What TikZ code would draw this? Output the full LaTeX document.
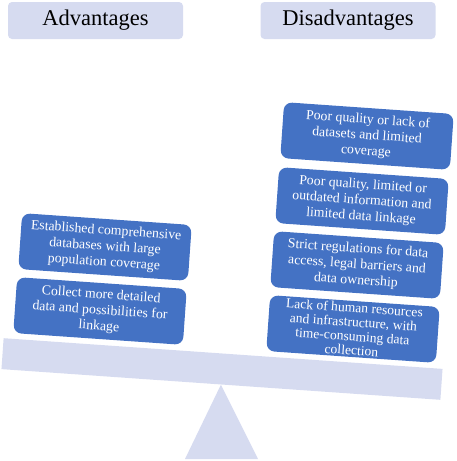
\documentclass[tikz,border=0pt]{standalone}
\usepackage{fontspec}
\setmainfont{Liberation Serif}
\definecolor{lavender}{RGB}{214,219,240}
\definecolor{boxblue}{RGB}{68,114,196}
\begin{document}
\begin{tikzpicture}[x=1pt,y=-1pt]
  \tikzstyle{head}=[fill=lavender,rounded corners=4pt,minimum width=175pt,minimum height=37pt,inner sep=0pt,font=\fontsize{22.5}{26}\selectfont]
  \tikzstyle{item}=[fill=boxblue,text=white,rounded corners=8pt,minimum width=170pt,minimum height=56pt,inner sep=0pt,align=center,rotate=-4,font=\fontsize{13.8}{15.8}\selectfont]
  \useasboundingbox (0,0) rectangle (457,461);
  \node[head] (adv) at (95.5,20.5) {Advantages};
  \node[head] (disadv) at (348,20.5) {Disadvantages};
  % balance
  \node[fill=lavender,minimum width=440pt,minimum height=31pt,inner sep=0pt,rotate=-4] (beam) at (222,369) {};
  \fill[lavender] (beam.south) -- (258,459) -- (185,459) -- cycle;
  % left side
  \node[item] (a1) at (105,247) {Established comprehensive\\databases with large\\population coverage};
  \node[item] (a2) at (100,311) {Collect more detailed\\data and possibilities for\\linkage};
  % right side
  \node[item] (d1) at (367,136) {Poor quality or lack of\\datasets and limited\\coverage};
  \node[item] (d2) at (362,201) {Poor quality, limited or\\outdated information and\\limited data linkage};
  \node[item] (d3) at (357,265) {Strict regulations for data\\access, legal barriers and\\data ownership};
  \node[item,font=\fontsize{13.6}{14.2}\selectfont] (d4) at (353,329) {Lack of human resources\\and infrastructure, with\\time-consuming data\\collection};
\end{tikzpicture}
\end{document}
